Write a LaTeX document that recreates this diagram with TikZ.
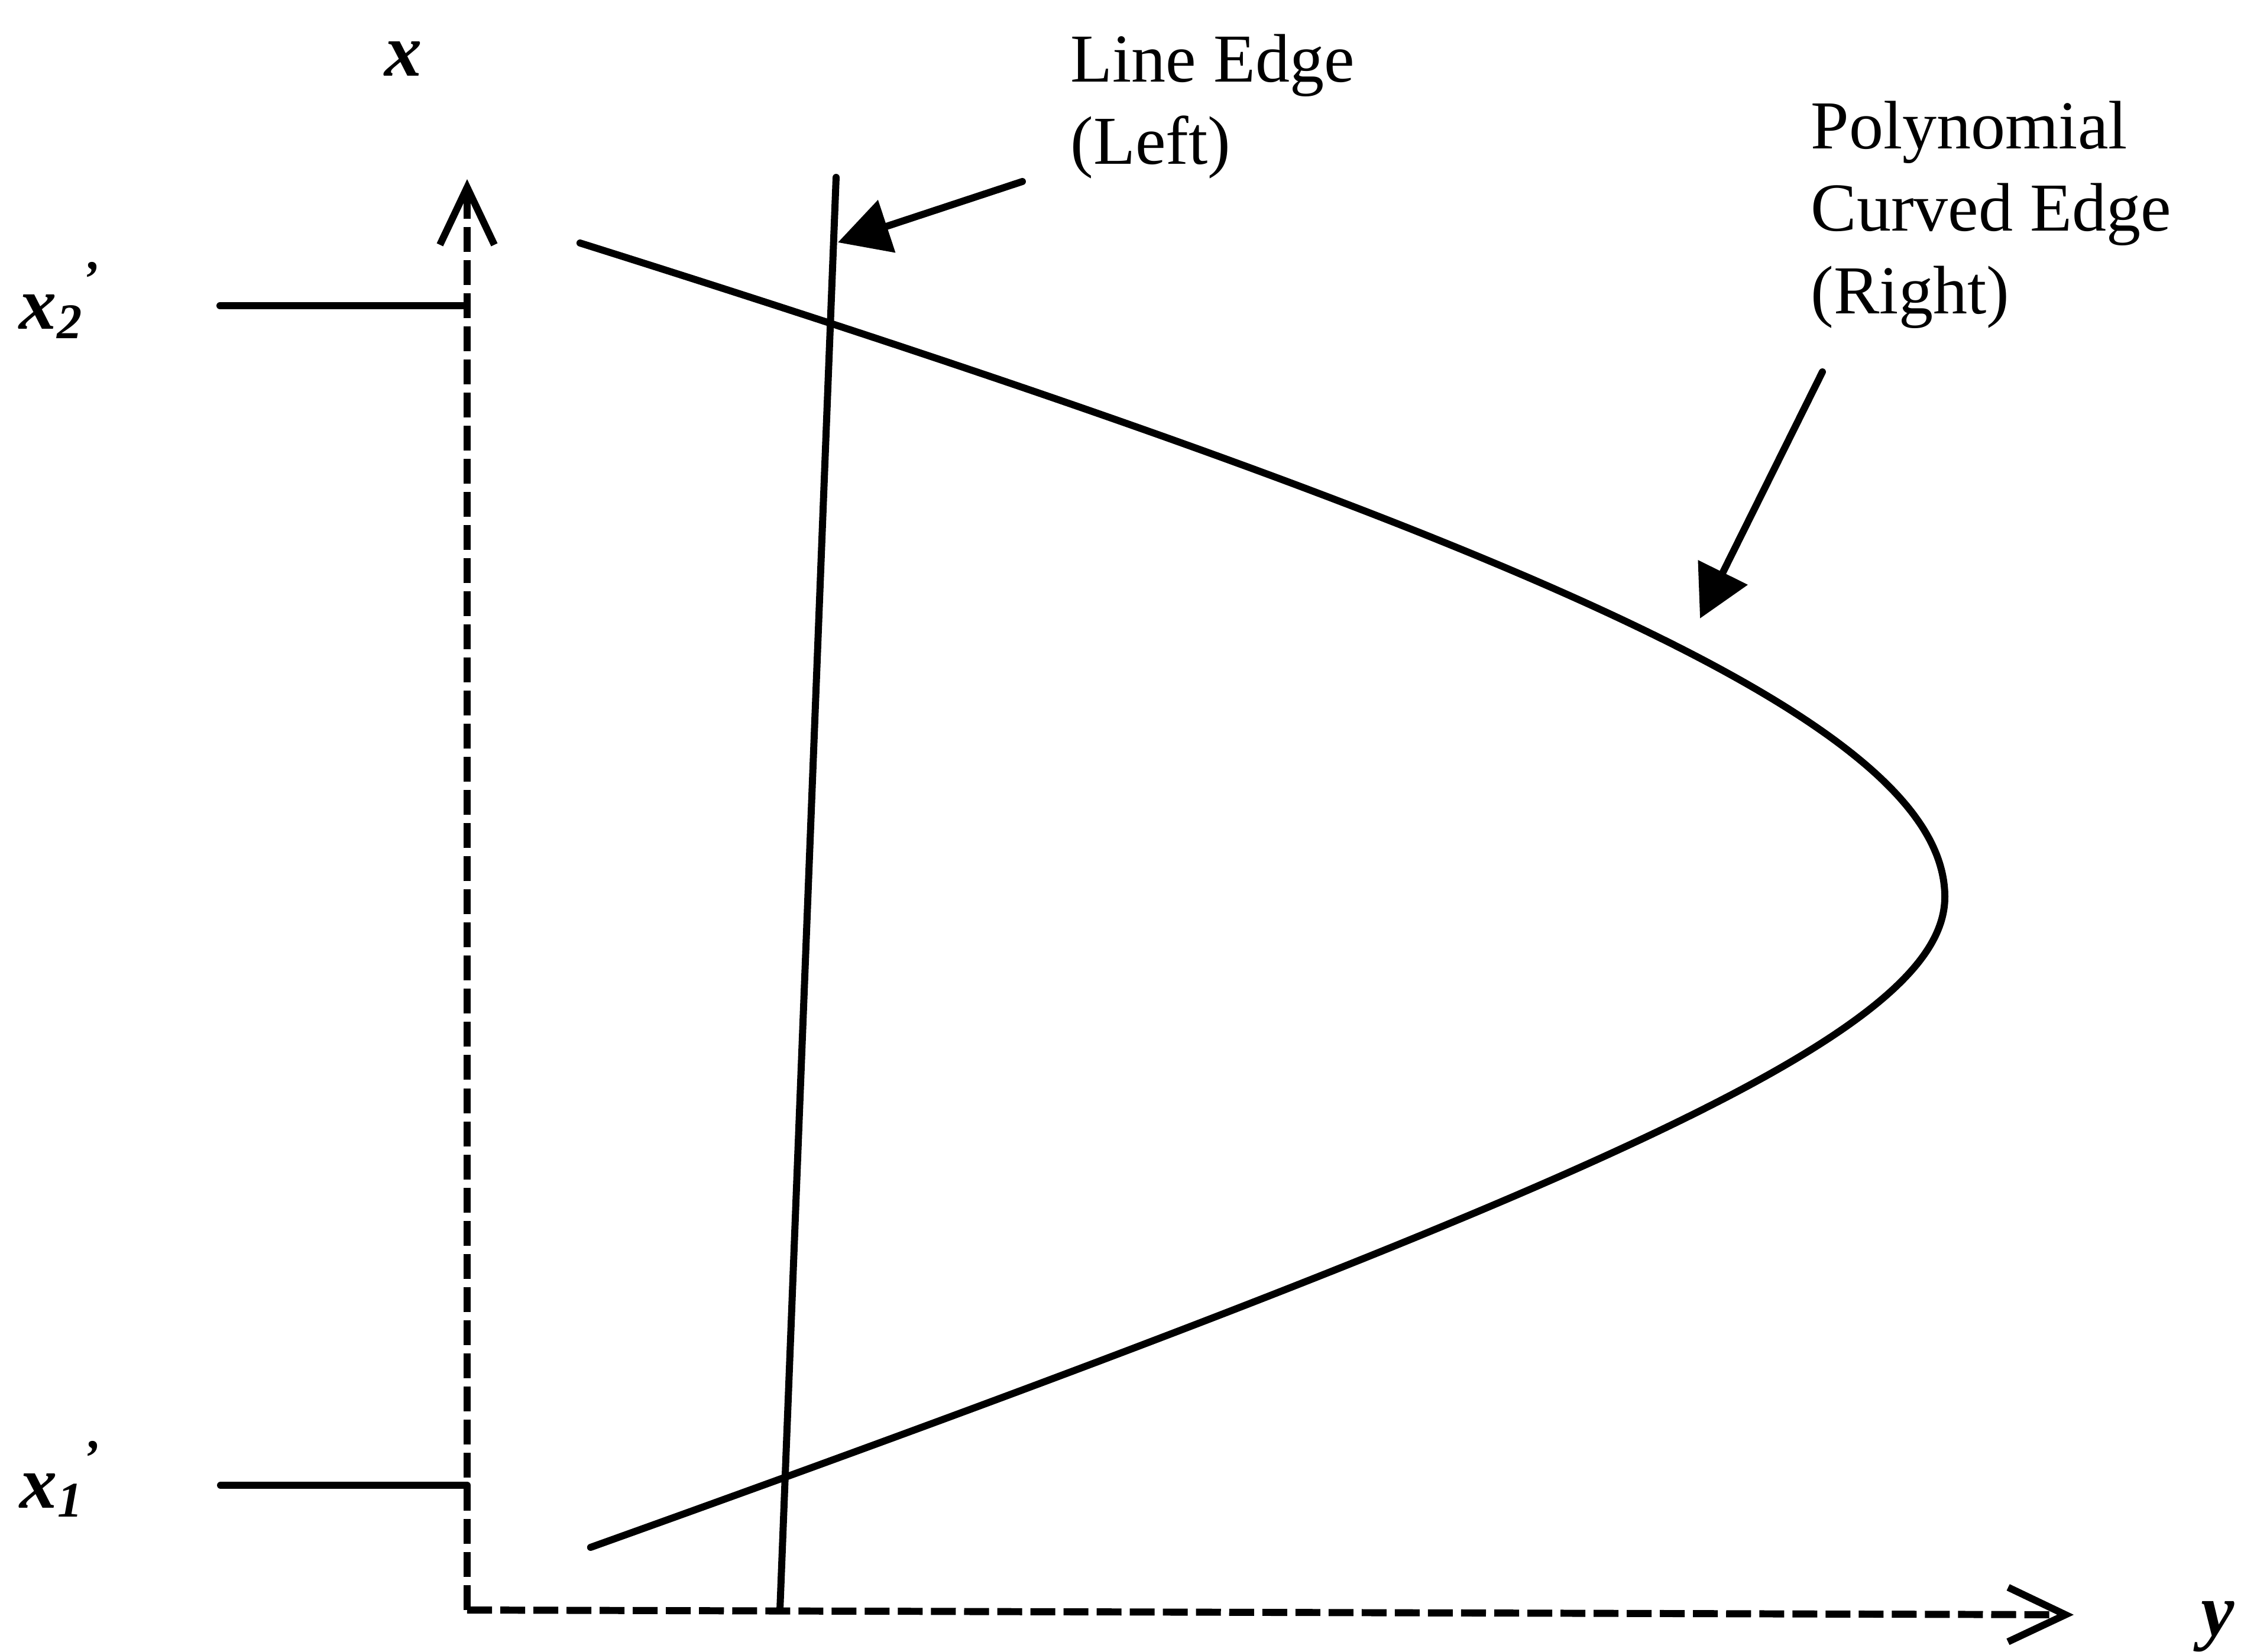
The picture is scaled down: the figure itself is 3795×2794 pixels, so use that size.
\documentclass[tikz,border=0pt]{standalone}
\usepackage{fontspec}
\setmainfont{Liberation Serif}
\usetikzlibrary{arrows.meta}
\begin{document}
\begin{tikzpicture}[x=0.01cm,y=-0.01cm,
  solidline/.style={line width=3.4pt, line cap=round, line join=round},
  axis/.style={line width=3.4pt, dash pattern=on 0.42cm off 0.14cm,
    -{Straight Barb[length=0.97cm,width=0.92cm]}},
  pointer/.style={line width=3.4pt, line cap=round, -{Triangle[length=0.87cm,width=0.91cm]}},
  axlabel/.style={inner sep=0pt, anchor=base west, font=\fontsize{36}{40}\selectfont\bfseries\itshape},
  note/.style={inner sep=0pt, anchor=north west, align=left, font=\fontsize{33}{39.7}\selectfont}]
\useasboundingbox (0,0) rectangle (3795,2794);

% axes
\coordinate (O) at (790,2723);
\coordinate (Xtip) at (790,303);
\coordinate (Ytip) at (3507,2731);
\draw[axis] (O) -- (Xtip);
\draw[axis] (O) -- (Ytip);

% tick lines
\coordinate (t2a) at (372,517);
\coordinate (t2b) at (790,517);
\coordinate (t1a) at (373,2512);
\coordinate (t1b) at (790,2512);
\draw[solidline] (t2a) -- (t2b);
\draw[solidline] (t1a) -- (t1b);

% line edge
\coordinate (LEtop) at (1414,300);
\coordinate (LEbot) at (1319,2723);
\draw[solidline] (LEtop) -- (LEbot);

% polynomial curve (upper and lower branch)
\draw[solidline]
  plot[domain=-1106:0, samples=200, smooth, variable=\t]
    ({3289-2527*(sqrt(1+(\t/678)^2)-1)}, {1517+\t})
  -- plot[domain=0:1100, samples=200, smooth, variable=\t]
    ({3289-1189*(sqrt(1+(\t/400)^2)-1)}, {1517+\t});

% labels
\node[axlabel] (xl) at (650,129) {x};
\node[axlabel] (yl) at (3722,2766) {y};
\node[axlabel] (x2l) at (32,556) {x\raisebox{-4.8pt}{\fontsize{24}{24}\selectfont 2}\raisebox{16pt}{\fontsize{24}{24}\selectfont ’}};
\node[axlabel] (x1l) at (33,2550) {x\raisebox{-4.3pt}{\fontsize{24}{24}\selectfont 1}\raisebox{16pt}{\fontsize{24}{24}\selectfont ’}};

\node[note] (le) at (1810,57) {Line Edge\\(Left)};
\node[note] (pc) at (3062,170) {Polynomial\\Curved Edge\\(Right)};

% pointers
\coordinate (LEtail) at (1729,307);
\coordinate (LEtip) at (1417,410);
\draw[pointer] (LEtail) -- (LEtip);
\coordinate (PCtail) at (3082,629);
\coordinate (PCtip) at (2875,1046);
\draw[pointer] (PCtail) -- (PCtip);
\end{tikzpicture}
\end{document}
